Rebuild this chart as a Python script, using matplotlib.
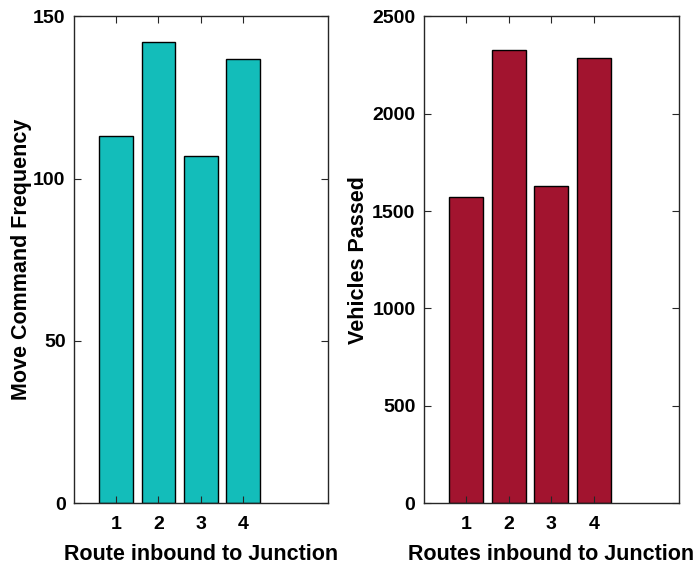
#!/usr/bin/env python3

import matplotlib.pyplot as plt

routes = [1, 2, 3, 4]
move_freq = [113, 142, 107, 137]
vehicles_passed = [1572, 2329, 1631, 2288]

plt.rcParams["font.family"] = ["Liberation Sans", "DejaVu Sans"]
plt.rcParams["font.weight"] = "bold"

fig = plt.figure(figsize=(6.97, 5.66), dpi=100)
ax1 = fig.add_axes([0.106, 0.111, 0.364, 0.860])
ax2 = fig.add_axes([0.608, 0.111, 0.366, 0.860])


def style(ax, ylim, yticks):
    ax.set_xlim(0, 6)
    ax.set_ylim(*ylim)
    ax.set_xticks(routes)
    ax.set_yticks(yticks)
    ax.tick_params(direction="in", top=True, right=True, length=5, width=0.8,
                   colors="#262626", labelsize=14)
    ax.tick_params(axis="x", pad=9)
    ax.tick_params(axis="y", pad=6)
    for lbl in ax.get_xticklabels() + ax.get_yticklabels():
        lbl.set_fontweight("bold")
        lbl.set_color("black")
    for sp in ax.spines.values():
        sp.set_color("#262626")
        sp.set_linewidth(1.0)


ax1.bar(routes, move_freq, width=0.8, color="#13BDBA", edgecolor="black", linewidth=1)
style(ax1, (0, 150), [0, 50, 100, 150])
ax1.set_xlabel("Route inbound to Junction", fontsize=15.5, fontweight="bold", labelpad=8)
ax1.set_ylabel("Move Command Frequency", fontsize=15.5, fontweight="bold", labelpad=1)

ax2.bar(routes, vehicles_passed, width=0.8, color="#A2142F", edgecolor="black", linewidth=1)
style(ax2, (0, 2500), [0, 500, 1000, 1500, 2000, 2500])
ax2.set_xlabel("Routes inbound to Junction", fontsize=15.5, fontweight="bold", labelpad=8)
ax2.set_ylabel("Vehicles Passed", fontsize=15.5, fontweight="bold", labelpad=2)

fig.savefig("out.png", dpi=100)
